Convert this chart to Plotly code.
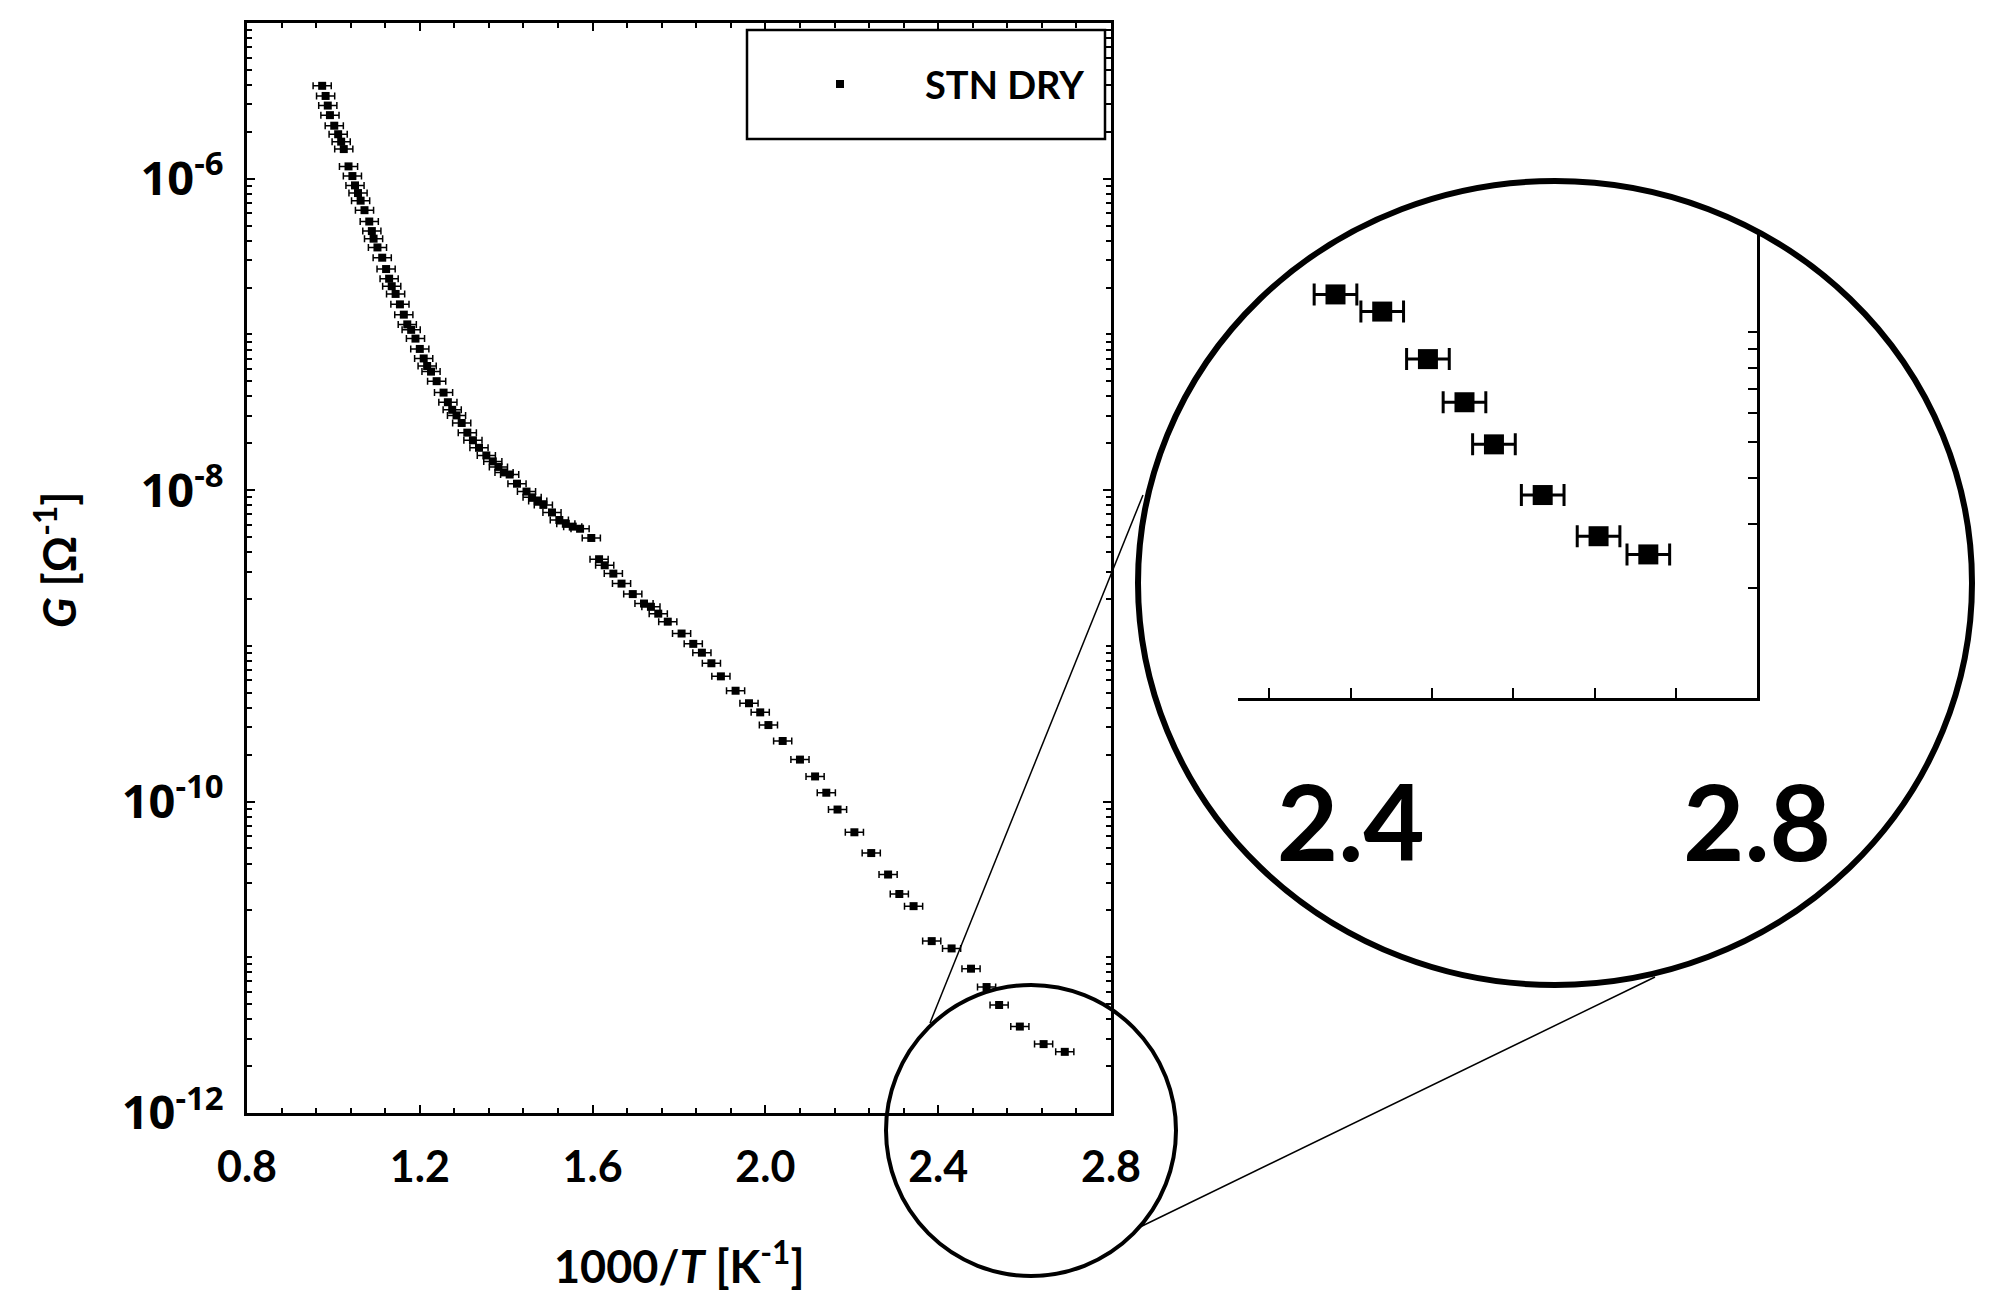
import plotly.graph_objects as go

# ---------------- data ----------------
inv_T = [0.974, 0.982, 0.987, 0.992, 1.002, 1.011, 1.018, 1.024, 1.035, 1.044,
         1.050, 1.057, 1.063, 1.072, 1.083, 1.089, 1.093, 1.102, 1.113, 1.122,
         1.129, 1.135, 1.144, 1.154, 1.163, 1.171, 1.180, 1.190, 1.200, 1.209,
         1.217, 1.226, 1.239, 1.255, 1.265, 1.275, 1.285, 1.297, 1.310, 1.323,
         1.337, 1.354, 1.369, 1.382, 1.395, 1.408, 1.425, 1.447, 1.460, 1.473,
         1.486, 1.506, 1.523, 1.538, 1.554, 1.571, 1.597,
         1.615, 1.628, 1.648, 1.667, 1.693, 1.719, 1.735, 1.752, 1.774, 1.806,
         1.833, 1.853, 1.875, 1.897, 1.931, 1.962, 1.988, 2.007, 2.040, 2.080,
         2.115, 2.141, 2.167, 2.206, 2.245, 2.284, 2.310, 2.343, 2.385, 2.431,
         2.476, 2.512, 2.541, 2.589, 2.644, 2.693]

G = [3.95e-6, 3.40e-6, 2.95e-6, 2.56e-6, 2.19e-6, 1.93e-6, 1.73e-6, 1.55e-6, 1.20e-6, 1.04e-6,
     9.06e-7, 8.09e-7, 7.23e-7, 6.28e-7, 5.31e-7, 4.61e-7, 4.12e-7, 3.62e-7, 3.11e-7, 2.63e-7,
     2.28e-7, 2.04e-7, 1.82e-7, 1.56e-7, 1.34e-7, 1.16e-7, 1.07e-7, 9.40e-8, 8.07e-8, 7.01e-8,
     6.27e-8, 5.77e-8, 5.01e-8, 4.23e-8, 3.67e-8, 3.28e-8, 3.02e-8, 2.70e-8, 2.34e-8, 2.09e-8,
     1.87e-8, 1.67e-8, 1.53e-8, 1.41e-8, 1.30e-8, 1.26e-8, 1.10e-8, 9.79e-9, 8.99e-9, 8.51e-9,
     8.04e-9, 7.19e-9, 6.43e-9, 6.08e-9, 5.83e-9, 5.65e-9, 4.93e-9,
     3.60e-9, 3.29e-9, 2.91e-9, 2.51e-9, 2.15e-9, 1.87e-9, 1.78e-9, 1.61e-9, 1.43e-9, 1.20e-9,
     1.03e-9, 9.04e-10, 7.73e-10, 6.37e-10, 5.15e-10, 4.28e-10, 3.74e-10, 3.10e-10, 2.45e-10, 1.86e-10,
     1.45e-10, 1.14e-10, 8.89e-11, 6.35e-11, 4.67e-11, 3.40e-11, 2.55e-11, 2.13e-11, 1.27e-11, 1.14e-11,
     8.45e-12, 6.44e-12, 4.94e-12, 3.59e-12, 2.77e-12, 2.47e-12]

inv_T_err = 0.021

series_name = "STN DRY"
x_tick_vals = [0.8, 1.2, 1.6, 2.0, 2.4, 2.8]
x_tick_text = ["0.8", "1.2", "1.6", "2.0", "2.4", "2.8"]
y_tick_vals = [1e-12, 1e-10, 1e-8, 1e-6]
y_tick_text = ["10<sup>-12</sup>", "10<sup>-10</sup>", "10<sup>-8</sup>", "10<sup>-6</sup>"]
inset_x_tick_vals = [2.4, 2.8]
inset_x_tick_text = ["2.4", "2.8"]

# unlabeled log tick positions (every 1..9 x 10^n, excluding the labeled decades)
def log_minor_positions(lo_exp, hi_exp, skip):
    out = []
    for e in range(lo_exp, hi_exp + 1):
        for m in range(1, 10):
            v = m * 10.0 ** e
            if m == 1 and any(abs(v - s) / s < 1e-9 for s in skip):
                continue
            out.append(v)
    return out

y_minor_vals = log_minor_positions(-12, -5, y_tick_vals)
y2_minor_vals = log_minor_positions(-12, -11, [1e-12])

# ---------------- layout helpers ----------------
W, H = 1996, 1314
def px(x):
    return x / W
def py(y):
    return 1 - y / H

fig = go.Figure()

# main data
fig.add_trace(go.Scatter(
    x=inv_T, y=G, mode="markers", name=series_name, showlegend=False,
    marker=dict(symbol="square", size=8, color="black"),
    error_x=dict(type="constant", value=inv_T_err, thickness=1.5, width=3.5, color="black"),
    xaxis="x", yaxis="y"))

# magnified inset (same data)
fig.add_trace(go.Scatter(
    x=inv_T, y=G, mode="markers", name=series_name, showlegend=False,
    marker=dict(symbol="square", size=20, color="black"),
    error_x=dict(type="constant", value=inv_T_err, thickness=3, width=11, color="black"),
    xaxis="x2", yaxis="y2"))

axis_common = dict(showgrid=False, zeroline=False, linecolor="black", linewidth=3,
                   ticks="inside", tickcolor="black", tickwidth=2, automargin=False)

fig.update_layout(
    template="none",
    width=W, height=H,
    margin=dict(l=0, r=0, t=0, b=0, pad=0, autoexpand=False),
    paper_bgcolor="white", plot_bgcolor="white",
    showlegend=False,
    xaxis=dict(**axis_common, domain=[px(247), px(1111)], range=[0.8, 2.8],
               mirror="allticks", showline=True, anchor="y",
               tickmode="array", tickvals=x_tick_vals, ticktext=x_tick_text, ticklen=8,
               ticklabelstandoff=14,
               tickfont=dict(family="Lato", size=43, color="black", weight="bold"),
               minor=dict(tick0=0.8, dtick=0.08, ticks="inside", ticklen=5,
                          tickwidth=2, tickcolor="black", showgrid=False)),
    yaxis=dict(**axis_common, domain=[py(1113), py(23)], type="log", range=[-12, -5],
               mirror="allticks", showline=True, anchor="x",
               tickmode="array", tickvals=y_tick_vals, ticktext=y_tick_text, ticklen=8,
               ticklabelstandoff=11,
               tickfont=dict(family="Open Sans", size=47, color="black", weight="bold"),
               minor=dict(tickmode="array", tickvals=y_minor_vals, ticks="inside", ticklen=5,
                          tickwidth=2, tickcolor="black", showgrid=False)),
    xaxis2=dict(**axis_common, domain=[px(1238), px(1757)], range=[2.289, 2.8],
                showline=True, mirror=False, anchor="y2",
                tickmode="array", tickvals=inset_x_tick_vals, ticktext=inset_x_tick_text,
                ticklen=10, ticklabelstandoff=33,
                tickfont=dict(family="Lato", size=106, color="black", weight="bold"),
                minor=dict(tick0=2.4, dtick=0.08, ticks="inside", ticklen=10,
                           tickwidth=2, tickcolor="black", showgrid=False)),
    yaxis2=dict(**axis_common, domain=[py(698), py(230)], type="log", range=[-12, -10.72],
                side="right", showline=True, mirror=False, anchor="x2",
                showticklabels=False, ticklen=9, tickmode="array", tickvals=[1e-12],
                minor=dict(tickmode="array", tickvals=y2_minor_vals, ticks="inside", ticklen=9,
                           tickwidth=2, tickcolor="black", showgrid=False)),
)

shapes = []
# legend box and symbol
shapes.append(dict(type="rect", xref="paper", yref="paper",
                   x0=px(747), x1=px(1105), y0=py(139), y1=py(30),
                   line=dict(color="black", width=2.5), fillcolor="white", layer="above"))
shapes.append(dict(type="rect", xref="paper", yref="paper",
                   x0=px(836), x1=px(844), y0=py(88), y1=py(80),
                   line=dict(color="black", width=0), fillcolor="black", layer="above"))
# small circle around the region being magnified
shapes.append(dict(type="circle", xref="paper", yref="paper",
                   x0=px(886), x1=px(1176), y0=py(1276), y1=py(985),
                   line=dict(color="black", width=4)))
# big magnifying circle
shapes.append(dict(type="circle", xref="paper", yref="paper",
                   x0=px(1138), x1=px(1972), y0=py(985), y1=py(181),
                   line=dict(color="black", width=6)))
# connecting lines
shapes.append(dict(type="line", xref="paper", yref="paper",
                   x0=px(930), y0=py(1023), x1=px(1143), y1=py(495),
                   line=dict(color="black", width=1.5)))
shapes.append(dict(type="line", xref="paper", yref="paper",
                   x0=px(1138), y0=py(1228), x1=px(1655), y1=py(977),
                   line=dict(color="black", width=1.5)))
fig.update_layout(shapes=shapes)

annotations = [
    dict(text=series_name, xref="paper", yref="paper", x=px(923), y=py(84),
         xanchor="left", yanchor="middle", showarrow=False,
         font=dict(family="Lato", size=38, color="black", weight="bold")),
    dict(text="1000/<i>T</i> [K<sup>-1</sup>]", xref="paper", yref="paper",
         x=px(679), y=py(1263), xanchor="center", yanchor="middle", showarrow=False,
         font=dict(family="Lato", size=45, color="black", weight="bold")),
    dict(text="<i>G</i> [Ω<sup>-1</sup>]", xref="paper", yref="paper",
         x=px(56), y=py(560), xanchor="center", yanchor="middle", showarrow=False,
         textangle=-90,
         font=dict(family="Lato", size=45, color="black", weight="bold")),
]
fig.update_layout(annotations=annotations)

fig.write_html("out.html", post_script="document.body.style.margin='0';",
               config={"displayModeBar": False})
